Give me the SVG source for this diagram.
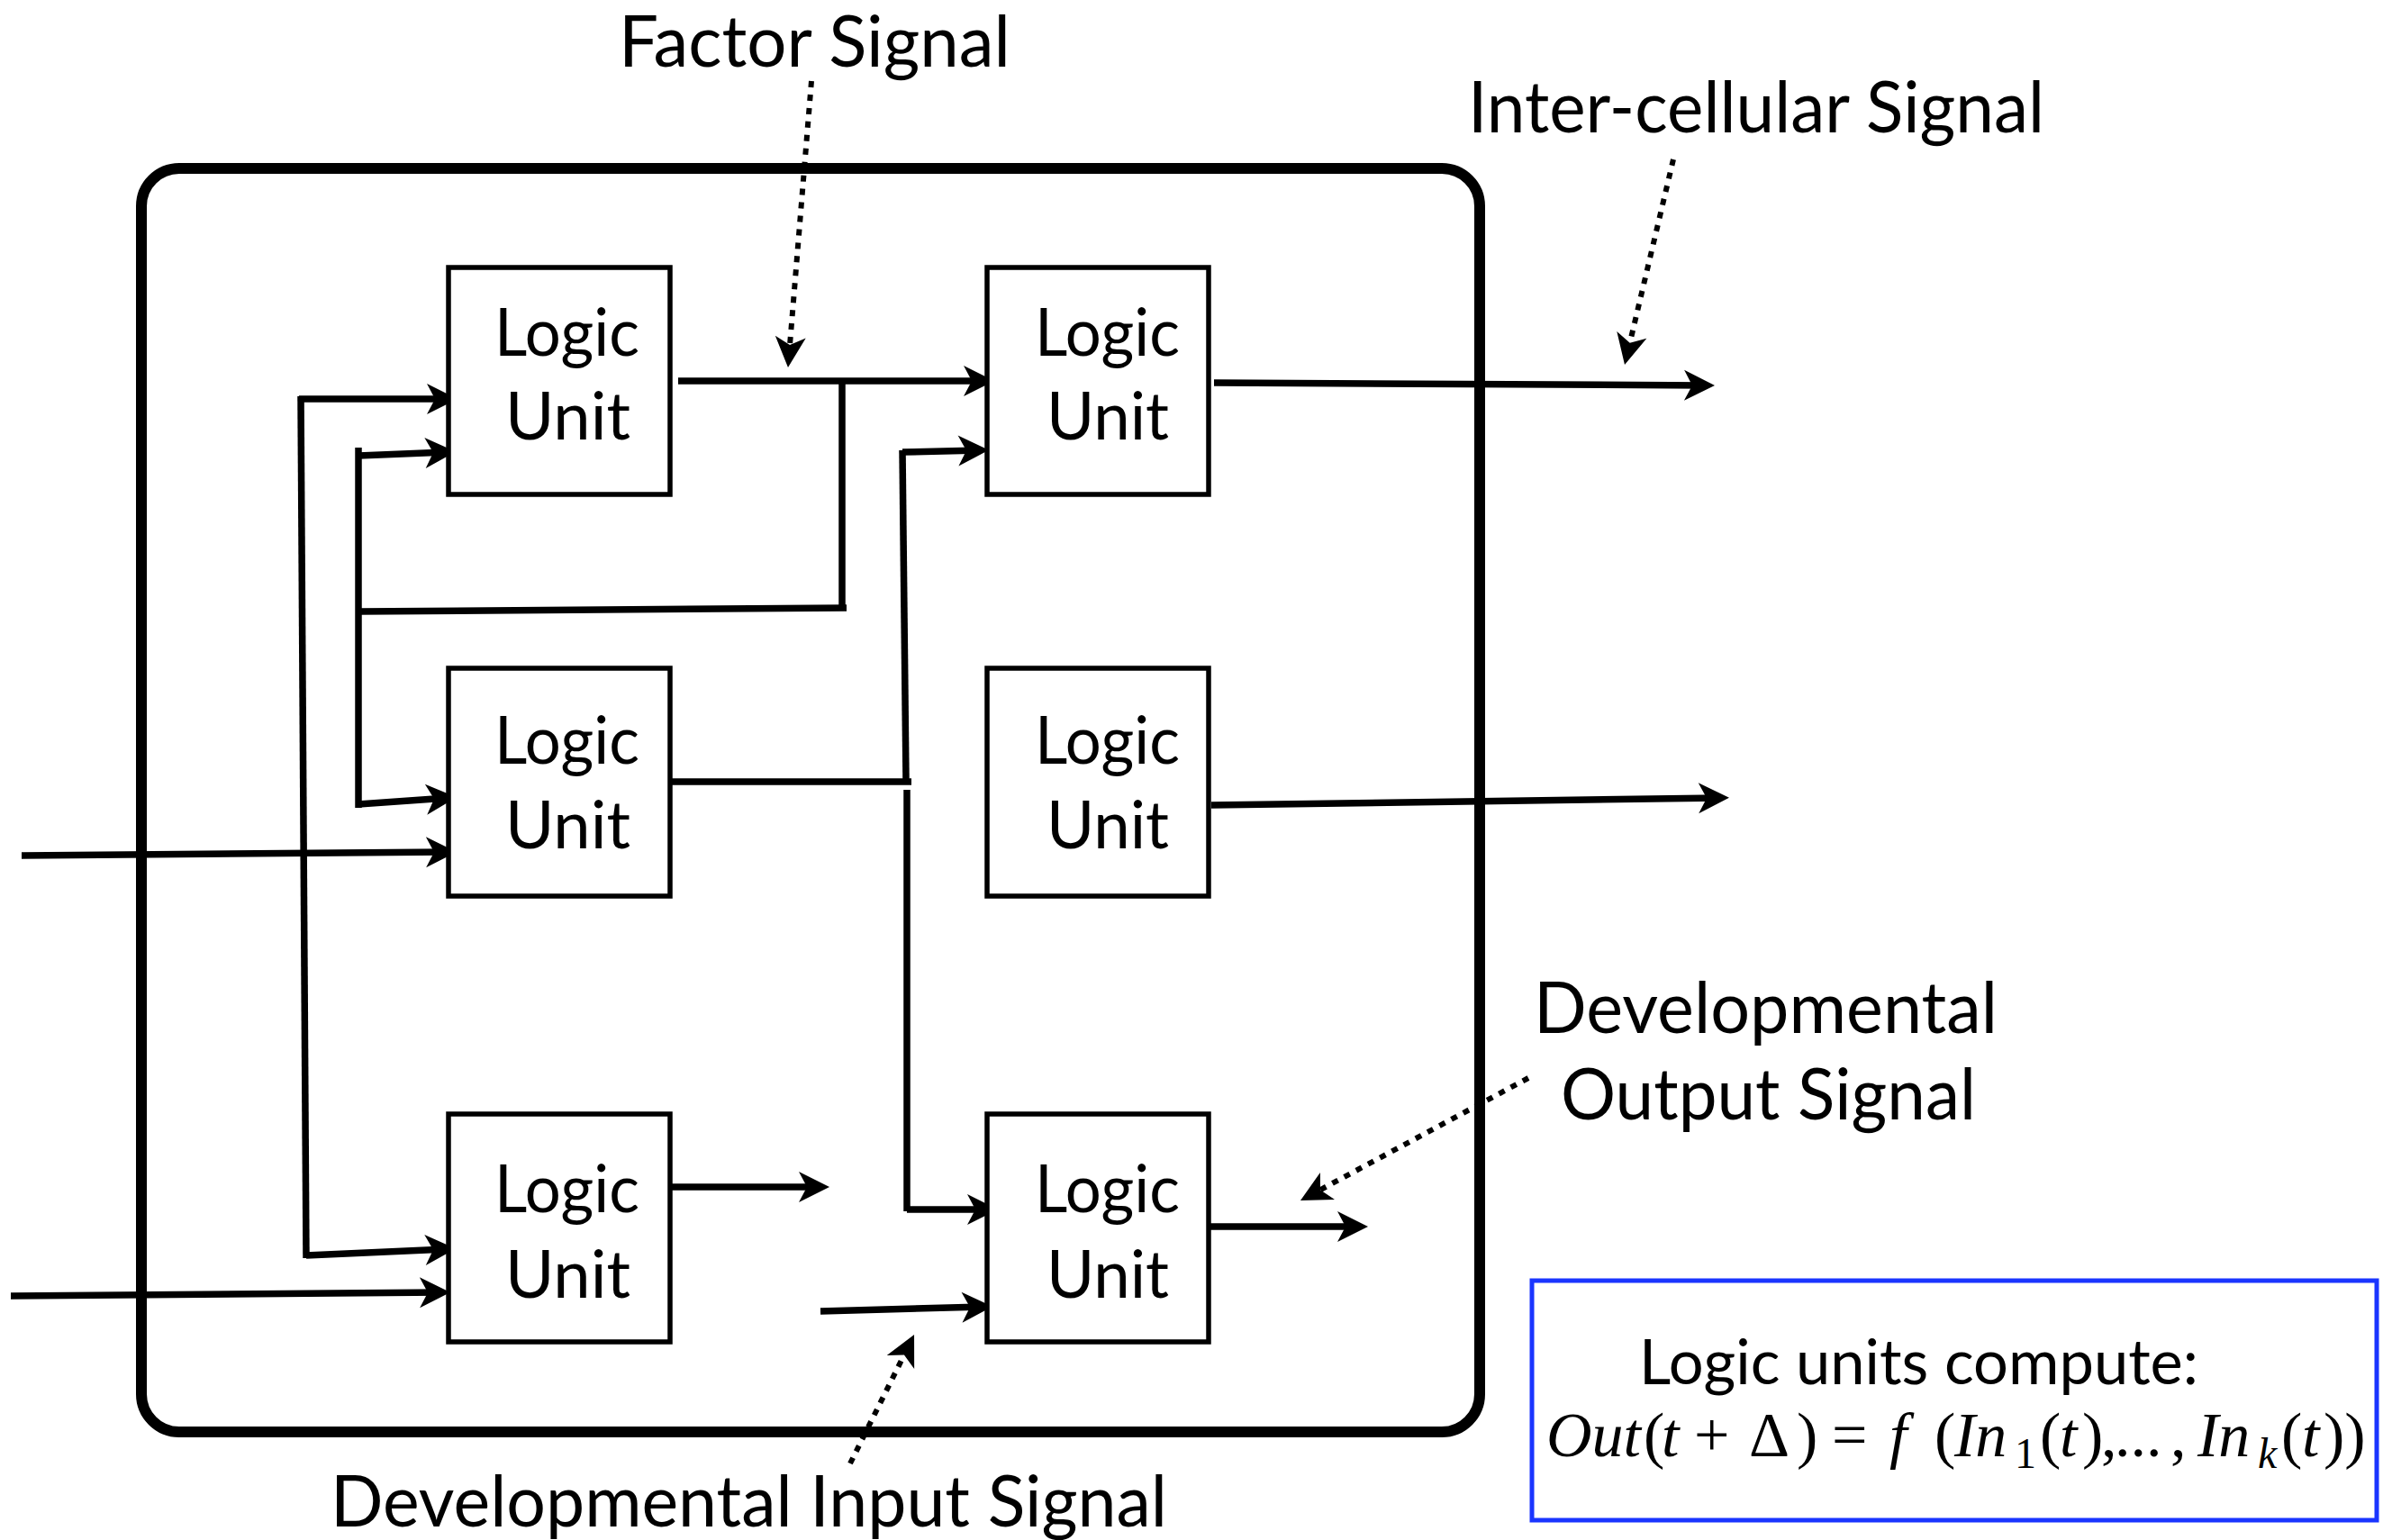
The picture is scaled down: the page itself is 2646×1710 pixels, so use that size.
<svg xmlns="http://www.w3.org/2000/svg" width="2646" height="1710" viewBox="0 0 2646 1710">
<style>
.box{fill:#fff;stroke:#000;stroke-width:5.5}
.lu{font-family:Lato,"Open Sans",sans-serif;font-size:74px;fill:#000}
.lbl{font-family:Lato,"Open Sans",sans-serif;font-size:80px;fill:#000}
.ln{fill:none;stroke:#000;stroke-width:7.5}
.la{fill:none;stroke:#000;stroke-width:7.5;marker-end:url(#ah)}
.dt{fill:none;stroke:#000;stroke-width:6;stroke-dasharray:7 8;marker-end:url(#ah)}
.mth{font-family:"Liberation Serif","DejaVu Serif",serif;font-size:70px;fill:#000}
.it{font-style:italic}
.sub{font-size:48px}
</style>
<defs>
<marker id="ah" markerUnits="userSpaceOnUse" viewBox="-26 -18 38 36" markerWidth="38" markerHeight="36" refX="0" refY="0" orient="auto" overflow="visible">
<path d="M10,0 L-24,-17 L-15,0 L-24,17 Z" fill="#000"/>
</marker>
</defs>
<rect width="2646" height="1710" fill="#fff"/>
<g id="cell">
<rect x="157" y="187" width="1486" height="1403" rx="42" ry="42" fill="none" stroke="#000" stroke-width="12"/>
</g>
<g id="connectors">
<path class="la" d="M753,423 L1094,423"/>
<path class="ln" d="M935,423 L935,672"/>
<path class="ln" d="M940,675 L398,679"/>
<path class="ln" d="M398,497 L398,897"/>
<path class="la" d="M398,506 L496,502"/>
<path class="la" d="M332,443 L498,443"/>
<path class="ln" d="M334,440 L340,1397"/>
<path class="la" d="M340,1394 L496,1387"/>
<path class="la" d="M398,893 L497,886"/>
<path class="la" d="M24,950 L497,946"/>
<path class="la" d="M12,1439 L490,1435"/>
<path class="ln" d="M746,868 L1012,868"/>
<path class="ln" d="M1002,500 L1006,866"/>
<path class="la" d="M1002,502 L1088,500"/>
<path class="ln" d="M1007,877 L1007,1345"/>
<path class="la" d="M1007,1343 L1098,1343"/>
<path class="la" d="M746,1318 L911,1318"/>
<path class="la" d="M911,1456 L1092,1451"/>
<path class="la" d="M1344,1362 L1509,1362"/>
<path class="la" d="M1348,425 L1894,428"/>
<path class="la" d="M1345,894 L1910,886"/>
<path class="dt" d="M901,90 L875.8,398"/>
<path class="dt" d="M1858,177 L1806.3,395.3"/>
<path class="dt" d="M1697,1197 L1452.8,1328.3"/>
<path class="dt" d="M944,1625 L1010.6,1491"/>
</g>
<g id="unitA">
<rect class="box" x="498" y="297" width="246" height="252"/>
<text class="lu" x="549" y="395" textLength="161" lengthAdjust="spacingAndGlyphs">Logic</text>
<text class="lu" x="561" y="488" textLength="139" lengthAdjust="spacingAndGlyphs">Unit</text>
</g>
<g id="unitB">
<rect class="box" x="1096" y="297" width="246" height="252"/>
<text class="lu" x="1149" y="395" textLength="161" lengthAdjust="spacingAndGlyphs">Logic</text>
<text class="lu" x="1162" y="488" textLength="136" lengthAdjust="spacingAndGlyphs">Unit</text>
</g>
<g id="unitC">
<rect class="box" x="498" y="742" width="246" height="253"/>
<text class="lu" x="549" y="848" textLength="161" lengthAdjust="spacingAndGlyphs">Logic</text>
<text class="lu" x="561" y="942" textLength="139" lengthAdjust="spacingAndGlyphs">Unit</text>
</g>
<g id="unitD">
<rect class="box" x="1096" y="742" width="246" height="253"/>
<text class="lu" x="1149" y="848" textLength="161" lengthAdjust="spacingAndGlyphs">Logic</text>
<text class="lu" x="1162" y="942" textLength="136" lengthAdjust="spacingAndGlyphs">Unit</text>
</g>
<g id="unitE">
<rect class="box" x="498" y="1237" width="246" height="253"/>
<text class="lu" x="549" y="1346" textLength="161" lengthAdjust="spacingAndGlyphs">Logic</text>
<text class="lu" x="561" y="1441" textLength="139" lengthAdjust="spacingAndGlyphs">Unit</text>
</g>
<g id="unitF">
<rect class="box" x="1096" y="1237" width="246" height="253"/>
<text class="lu" x="1149" y="1346" textLength="161" lengthAdjust="spacingAndGlyphs">Logic</text>
<text class="lu" x="1162" y="1441" textLength="136" lengthAdjust="spacingAndGlyphs">Unit</text>
</g>
<g id="label-factor">
<text class="lbl" x="687" y="74" textLength="435" lengthAdjust="spacingAndGlyphs">Factor Signal</text>
</g>
<g id="label-intercellular">
<text class="lbl" x="1630" y="147" textLength="640" lengthAdjust="spacingAndGlyphs">Inter-cellular Signal</text>
</g>
<g id="label-devout">
<text class="lbl" x="1703" y="1147" textLength="515" lengthAdjust="spacingAndGlyphs">Developmental</text>
<text class="lbl" x="1733" y="1243" textLength="461" lengthAdjust="spacingAndGlyphs">Output Signal</text>
</g>
<g id="label-devin">
<text class="lbl" x="367" y="1695" textLength="929" lengthAdjust="spacingAndGlyphs">Developmental Input Signal</text>
</g>
<g id="formula-box">
<rect x="1701" y="1422" width="938" height="266" fill="none" stroke="#1a35ff" stroke-width="5"/>
<text class="lu" x="1820" y="1537" style="font-size:70px" textLength="621" lengthAdjust="spacingAndGlyphs">Logic units compute:</text>
<text class="mth" y="1617"><tspan class="it" x="1717">Out</tspan><tspan x="1825">(</tspan><tspan class="it" x="1845">t</tspan><tspan x="1881">+</tspan><tspan x="1942">Δ</tspan><tspan x="1995">)</tspan><tspan x="2034">=</tspan><tspan class="it" x="2098">f</tspan><tspan x="2148">(</tspan><tspan class="it" x="2170">In</tspan><tspan class="sub" x="2237" y="1630">1</tspan><tspan x="2265" y="1617">(</tspan><tspan class="it" x="2287">t</tspan><tspan x="2312">)</tspan><tspan x="2333">,</tspan><tspan x="2348">...</tspan><tspan x="2410">,</tspan><tspan class="it" x="2440">In</tspan><tspan class="it sub" x="2507" y="1630">k</tspan><tspan x="2533" y="1617">(</tspan><tspan class="it" x="2556">t</tspan><tspan x="2580">))</tspan></text>
</g>
</svg>
